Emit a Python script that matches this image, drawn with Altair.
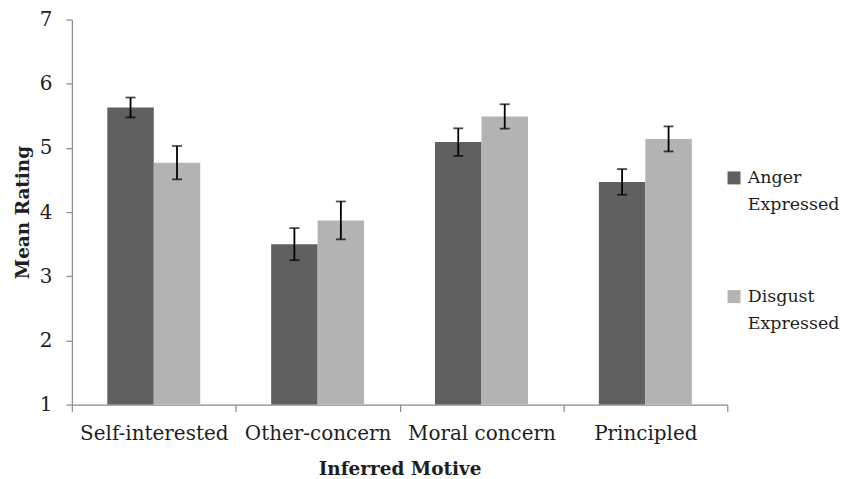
import altair as alt
import pandas as pd

categories = ["Self-interested", "Other-concern", "Moral concern", "Principled"]
conditions = ["Anger Expressed", "Disgust Expressed"]
anger_means = [5.63, 3.50, 5.09, 4.47]
anger_se = [0.155, 0.25, 0.215, 0.20]
disgust_means = [4.77, 3.87, 5.49, 5.14]
disgust_se = [0.26, 0.295, 0.19, 0.195]
colors = ["#606060", "#b3b3b3"]

rows = []
for cond, means, ses in [(conditions[0], anger_means, anger_se), (conditions[1], disgust_means, disgust_se)]:
    for cat, m, s in zip(categories, means, ses):
        rows.append({"motive": cat, "cond": cond, "mean": m, "lo": m - s, "hi": m + s})
df = pd.DataFrame(rows)

FONT = "DejaVu Serif"
AXC = "#8a8a8a"
TXT = "#1e1e1e"

x = alt.X(
    "motive:N",
    sort=categories,
    title="Inferred Motive",
    scale=alt.Scale(paddingInner=0, paddingOuter=0),
    axis=alt.Axis(
        labelAngle=0,
        tickBand="extent",
        tickSize=7,
        labelPadding=12,
        labelFontSize=20,
        labelLineHeight=20,
        titleFontSize=18.5,
        titlePadding=16,
    ),
)
xoff = alt.XOffset("cond:N", sort=conditions, scale=alt.Scale(paddingInner=0, paddingOuter=0.763))
y = alt.Y(
    "mean:Q",
    title="Mean Rating",
    scale=alt.Scale(domain=[1, 7], nice=False, zero=False),
    axis=alt.Axis(values=[1, 2, 3, 4, 5, 6, 7], format="d", tickSize=6, labelPadding=14,
                  labelFontSize=20, labelLineHeight=20, titleFontSize=18.5, titlePadding=7),
)

base = alt.Chart(df)

bars = base.mark_bar().encode(
    x=x,
    xOffset=xoff,
    y=y,
    y2=alt.datum(1),
    color=alt.Color(
        "cond:N",
        sort=conditions,
        scale=alt.Scale(domain=conditions, range=colors),
        legend=alt.Legend(
            title=None,
            orient="none",
            legendX=655,
            legendY=141,
            symbolType="M-1,0.385H1V2.385H-1Z",
            symbolSize=169,
            symbolStrokeWidth=0,
            labelFont=FONT,
            labelFontSize=17.5,
            labelColor=TXT,
            labelBaseline="top",
            labelOffset=5,
            labelExpr="split(datum.label, ' ')",
            rowPadding=65,
            padding=0,
        ),
    ),
)

err = base.mark_rule(color="black", strokeWidth=1.8).encode(
    x=alt.X("motive:N", sort=categories),
    xOffset=alt.XOffset("cond:N", sort=conditions),
    y=alt.Y("lo:Q"),
    y2="hi:Q",
)
cap_lo = base.mark_tick(color="black", thickness=1.8, size=10).encode(
    x=alt.X("motive:N", sort=categories),
    xOffset=alt.XOffset("cond:N", sort=conditions),
    y=alt.Y("lo:Q"),
)
cap_hi = base.mark_tick(color="black", thickness=1.8, size=10).encode(
    x=alt.X("motive:N", sort=categories),
    xOffset=alt.XOffset("cond:N", sort=conditions),
    y=alt.Y("hi:Q"),
)

chart = (
    alt.layer(bars, err, cap_lo, cap_hi)
    .properties(width=657, height=386, padding={"top": 1, "left": 5, "right": 0, "bottom": 0})
    .configure(style={"guide-label": {"lineHeight": 27}})
    .configure_view(stroke=None)
    .configure_axis(
        grid=False,
        domainColor=AXC,
        tickColor=AXC,
        domainWidth=1.2,
        tickWidth=1.2,
        labelFont=FONT,
        titleFont=FONT,
        labelColor=TXT,
        titleColor=TXT,
        titleFontWeight="bold",
    )
)

chart.save("out.html", embed_options={"renderer": "svg", "actions": False})
